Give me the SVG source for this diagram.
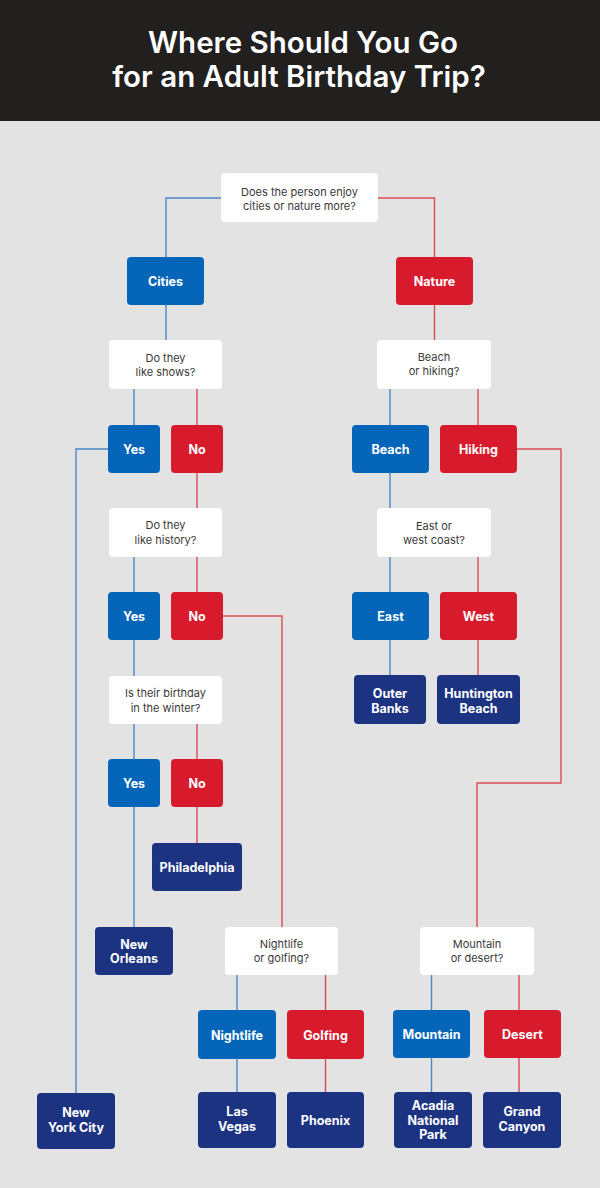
<svg xmlns="http://www.w3.org/2000/svg" width="600" height="1188" viewBox="0 0 600 1188">
<style>
.bg{fill:#e3e3e3}
.q rect{fill:#ffffff}
.q text{font-family:Inter,"Liberation Sans",sans-serif;font-size:11px;fill:#3a3a3a;text-anchor:middle}
.b rect{fill:#0566b9}
.r rect{fill:#d71a2c}
.d rect{fill:#1c3382}
.b text,.r text,.d text{font-family:Inter,"Liberation Sans",sans-serif;font-size:12.5px;font-weight:700;fill:#ffffff;text-anchor:middle}
.lb{fill:none;stroke:#4c88c6;stroke-width:1.4}
.lr{fill:none;stroke:#db4b57;stroke-width:1.4}
.title{font-family:Inter,"Liberation Sans",sans-serif;font-size:29.5px;font-weight:600;fill:#ffffff;text-anchor:middle}
</style>
<rect class="bg" x="0" y="0" width="600" height="1188"/>
<g id="header">
<rect x="0" y="0" width="600" height="121" fill="#221f1f"/>
<text class="title" x="303" y="52.5">Where Should You Go</text>
<text class="title" x="299" y="87">for an Adult Birthday Trip?</text>
</g>
<g id="connectors">
<path class="lb" d="M221,198 H166 V257"/>
<path class="lr" d="M378,198 H434.5 V257"/>
<path class="lb" d="M166,305 V340"/>
<path class="lr" d="M434.5,305 V340"/>
<path class="lb" d="M134,389 V425"/>
<path class="lr" d="M197,389 V425"/>
<path class="lb" d="M108,449 H76 V1093"/>
<path class="lr" d="M197,473 V508"/>
<path class="lb" d="M390,389 V425"/>
<path class="lr" d="M478,389 V425"/>
<path class="lr" d="M517,449 H561 V783 H477 V927"/>
<path class="lb" d="M390,473 V508"/>
<path class="lb" d="M134,557 V592"/>
<path class="lr" d="M197,557 V592"/>
<path class="lr" d="M223,616 H282 V927"/>
<path class="lb" d="M134,640 V676"/>
<path class="lb" d="M390,557 V592"/>
<path class="lr" d="M478,557 V592"/>
<path class="lb" d="M390,640 V675"/>
<path class="lr" d="M478,640 V675"/>
<path class="lb" d="M134,724 V759"/>
<path class="lr" d="M197,724 V759"/>
<path class="lr" d="M197,807 V843"/>
<path class="lb" d="M134,807 V927"/>
<path class="lb" d="M237,975 V1010"/>
<path class="lr" d="M325.5,975 V1010"/>
<path class="lb" d="M237,1059 V1092"/>
<path class="lr" d="M325.5,1059 V1092"/>
<path class="lb" d="M431.5,975 V1010"/>
<path class="lr" d="M519,975 V1010"/>
<path class="lb" d="M431.5,1058 V1092"/>
<path class="lr" d="M519,1058 V1092"/>
</g>
<g id="q1" class="q"><rect x="221" y="173" width="157" height="49" rx="4"/><text x="299.5" y="196">Does the person enjoy</text><text x="299.5" y="210">cities or nature more?</text></g>
<g id="cities" class="b"><rect x="127" y="257" width="77" height="48" rx="4"/><text x="165.5" y="285.5">Cities</text></g>
<g id="nature" class="r"><rect x="396" y="257" width="77" height="48" rx="4"/><text x="434.5" y="285.5">Nature</text></g>
<g id="q-shows" class="q"><rect x="109" y="340" width="113" height="49" rx="4"/><text x="165.5" y="362">Do they</text><text x="165.5" y="376">like shows?</text></g>
<g id="yes1" class="b"><rect x="108" y="425" width="52" height="48" rx="4"/><text x="134" y="453.5">Yes</text></g>
<g id="no1" class="r"><rect x="171" y="425" width="52" height="48" rx="4"/><text x="197" y="453.5">No</text></g>
<g id="q-beach" class="q"><rect x="377" y="340" width="114" height="49" rx="4"/><text x="434" y="360.5">Beach</text><text x="434" y="375">or hiking?</text></g>
<g id="beach" class="b"><rect x="352" y="425" width="77" height="48" rx="4"/><text x="390.5" y="453.5">Beach</text></g>
<g id="hiking" class="r"><rect x="440" y="425" width="77" height="48" rx="4"/><text x="478.5" y="453.5">Hiking</text></g>
<g id="q-history" class="q"><rect x="109" y="508" width="113" height="49" rx="4"/><text x="165.5" y="529">Do they</text><text x="165.5" y="543.5">like history?</text></g>
<g id="yes2" class="b"><rect x="108" y="592" width="52" height="48" rx="4"/><text x="134" y="621">Yes</text></g>
<g id="no2" class="r"><rect x="171" y="592" width="52" height="48" rx="4"/><text x="197" y="621">No</text></g>
<g id="q-coast" class="q"><rect x="377" y="508" width="114" height="49" rx="4"/><text x="434" y="529.5">East or</text><text x="434" y="544">west coast?</text></g>
<g id="east" class="b"><rect x="352" y="592" width="77" height="48" rx="4"/><text x="390.5" y="621">East</text></g>
<g id="west" class="r"><rect x="440" y="592" width="77" height="48" rx="4"/><text x="478.5" y="621">West</text></g>
<g id="outer-banks" class="d"><rect x="354" y="675" width="72" height="49" rx="4"/><text x="390" y="698">Outer</text><text x="390" y="713">Banks</text></g>
<g id="huntington" class="d"><rect x="437" y="675" width="83" height="49" rx="4"/><text x="478.5" y="698">Huntington</text><text x="478.5" y="713">Beach</text></g>
<g id="q-winter" class="q"><rect x="109" y="676" width="113" height="48" rx="4"/><text x="165.5" y="697">Is their birthday</text><text x="165.5" y="711.5">in the winter?</text></g>
<g id="yes3" class="b"><rect x="108" y="759" width="52" height="48" rx="4"/><text x="134" y="788">Yes</text></g>
<g id="no3" class="r"><rect x="171" y="759" width="52" height="48" rx="4"/><text x="197" y="788">No</text></g>
<g id="philadelphia" class="d"><rect x="152" y="843" width="90" height="48" rx="4"/><text x="197" y="871.5">Philadelphia</text></g>
<g id="new-orleans" class="d"><rect x="95" y="927" width="78" height="48" rx="4"/><text x="134" y="948.5">New</text><text x="134" y="963">Orleans</text></g>
<g id="q-nightlife" class="q"><rect x="225" y="927" width="113" height="48" rx="4"/><text x="281.5" y="947.5">Nightlife</text><text x="281.5" y="962">or golfing?</text></g>
<g id="q-mountain" class="q"><rect x="420" y="927" width="114" height="48" rx="4"/><text x="477" y="947.5">Mountain</text><text x="477" y="962">or desert?</text></g>
<g id="nightlife" class="b"><rect x="198" y="1010" width="78" height="49" rx="4"/><text x="237" y="1039.5">Nightlife</text></g>
<g id="golfing" class="r"><rect x="287" y="1010" width="77" height="49" rx="4"/><text x="325.5" y="1039.5">Golfing</text></g>
<g id="mountain" class="b"><rect x="393" y="1010" width="77" height="48" rx="4"/><text x="431.5" y="1039">Mountain</text></g>
<g id="desert" class="r"><rect x="484" y="1010" width="77" height="48" rx="4"/><text x="522.5" y="1039">Desert</text></g>
<g id="nyc" class="d"><rect x="37" y="1093" width="78" height="56" rx="4"/><text x="76" y="1117">New</text><text x="76" y="1132">York City</text></g>
<g id="las-vegas" class="d"><rect x="198" y="1092" width="78" height="56" rx="4"/><text x="237" y="1116">Las</text><text x="237" y="1131">Vegas</text></g>
<g id="phoenix" class="d"><rect x="287" y="1092" width="77" height="56" rx="4"/><text x="325.5" y="1124.5">Phoenix</text></g>
<g id="acadia" class="d"><rect x="394" y="1092" width="78" height="56" rx="4"/><text x="433" y="1110">Acadia</text><text x="433" y="1124.5">National</text><text x="433" y="1139">Park</text></g>
<g id="grand-canyon" class="d"><rect x="483" y="1092" width="78" height="56" rx="4"/><text x="522" y="1116">Grand</text><text x="522" y="1131">Canyon</text></g>
</svg>
